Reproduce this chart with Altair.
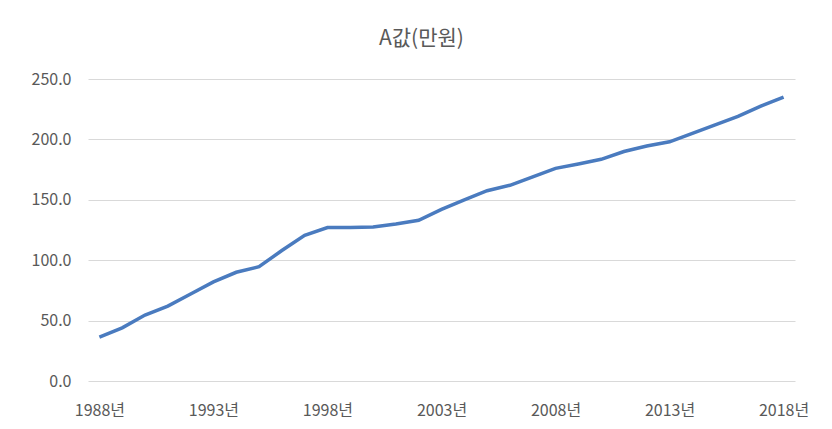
import altair as alt
import pandas as pd

years = [f"{y}년" for y in range(1988, 2019)]
values = [36.4, 44.0, 54.6, 62.0, 72.0, 82.0, 90.0, 94.6, 108.0, 120.6,
          127.0, 127.0, 127.5, 130.0, 133.0, 142.0, 150.0, 157.5, 162.0, 169.0,
          176.0, 179.6, 183.5, 190.0, 194.5, 198.0, 205.0, 212.0, 219.0, 227.6,
          235.0]
tick_labels = ["1988년", "1993년", "1998년", "2003년", "2008년", "2013년", "2018년"]

df = pd.DataFrame({"year": years, "value": values})

FONT = "Noto Sans CJK KR"
GRAY = "#595959"

chart = alt.Chart(df).mark_line(color="#4a7bbf", strokeWidth=3.5).encode(
    x=alt.X("year:O", sort=years,
            scale=alt.Scale(type="point", padding=0.5),
            axis=alt.Axis(title=None, values=tick_labels, labelAngle=0,
                          ticks=False, domain=False, grid=False,
                          labelFont=FONT, labelFontSize=16, labelColor=GRAY,
                          labelPadding=21)),
    y=alt.Y("value:Q",
            scale=alt.Scale(domain=[0, 250], nice=False),
            axis=alt.Axis(title=None, values=[0, 50, 100, 150, 200, 250],
                          format=".1f", ticks=False, domain=False,
                          gridColor="#d9d9d9", gridWidth=1,
                          labelFont=FONT, labelFontSize=16, labelColor=GRAY,
                          labelPadding=17)),
).properties(
    width=707, height=302,
    title=alt.TitleParams("A값(만원)", font=FONT, fontSize=21, color=GRAY,
                          fontWeight="normal", offset=22, dx=-20),
    autosize=alt.AutoSizeParams(type="none"),
    padding={"left": 80, "top": 71, "right": 29, "bottom": 40},
).configure_view(stroke=None)

chart.save("out.html", embed_options={"renderer": "svg", "actions": False})
